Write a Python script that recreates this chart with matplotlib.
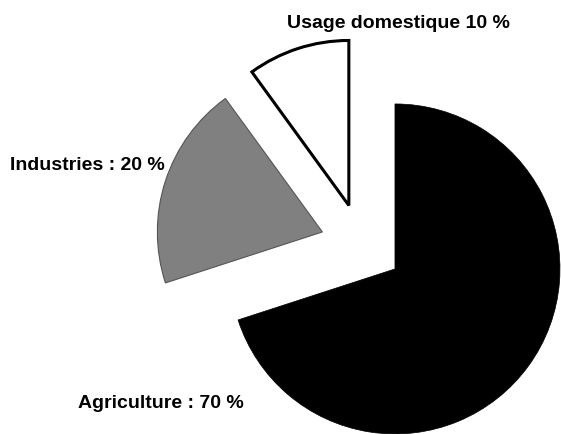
import matplotlib
matplotlib.use("Agg")
import matplotlib.pyplot as plt
from matplotlib import font_manager

# water use shares (%)
categories = ["Agriculture", "Industries", "Usage domestique"]
shares = [70, 20, 10]
labels = ["Agriculture : 70 %", "Industries : 20 %", "Usage domestique 10 %"]
colors = ["#000000", "#808080", "#ffffff"]
explode_frac = [0.25, 0.25, 0.25]

names = {f.name for f in font_manager.fontManager.ttflist}
fam = ["Liberation Sans Narrow", "Liberation Sans", "DejaVu Sans"]
fam = [f for f in fam if f in names] or ["DejaVu Sans"]
plt.rcParams["font.family"] = fam

W, H = 561, 435
fig = plt.figure(figsize=(W / 100, H / 100), dpi=100)
ax = fig.add_axes([0, 0, 1, 1])

R = 165
wedges, _ = ax.pie(shares, colors=colors, explode=[e * R for e in explode_frac],
                   startangle=90, counterclock=False, radius=R,
                   center=(361.6, H - 245.7), frame=True)
wedges[0].set_edgecolor("#000000")
wedges[0].set_linewidth(0.5)
wedges[1].set_edgecolor("#555555")
wedges[1].set_linewidth(0.8)
wedges[2].set_edgecolor("#000000")
wedges[2].set_linewidth(2.2)
ax.set_xlim(0, W)
ax.set_ylim(0, H)
ax.set_aspect("equal")
ax.axis("off")

# label positions (pixels, top-left origin)
pos = [(78, 404), (10, 165), (287, 23)]
for lab, (x, y) in zip(labels, pos):
    ax.text(x, H - y, lab, ha="left", va="center", fontsize=14, fontweight="bold")

fig.savefig("out.png", dpi=100)
